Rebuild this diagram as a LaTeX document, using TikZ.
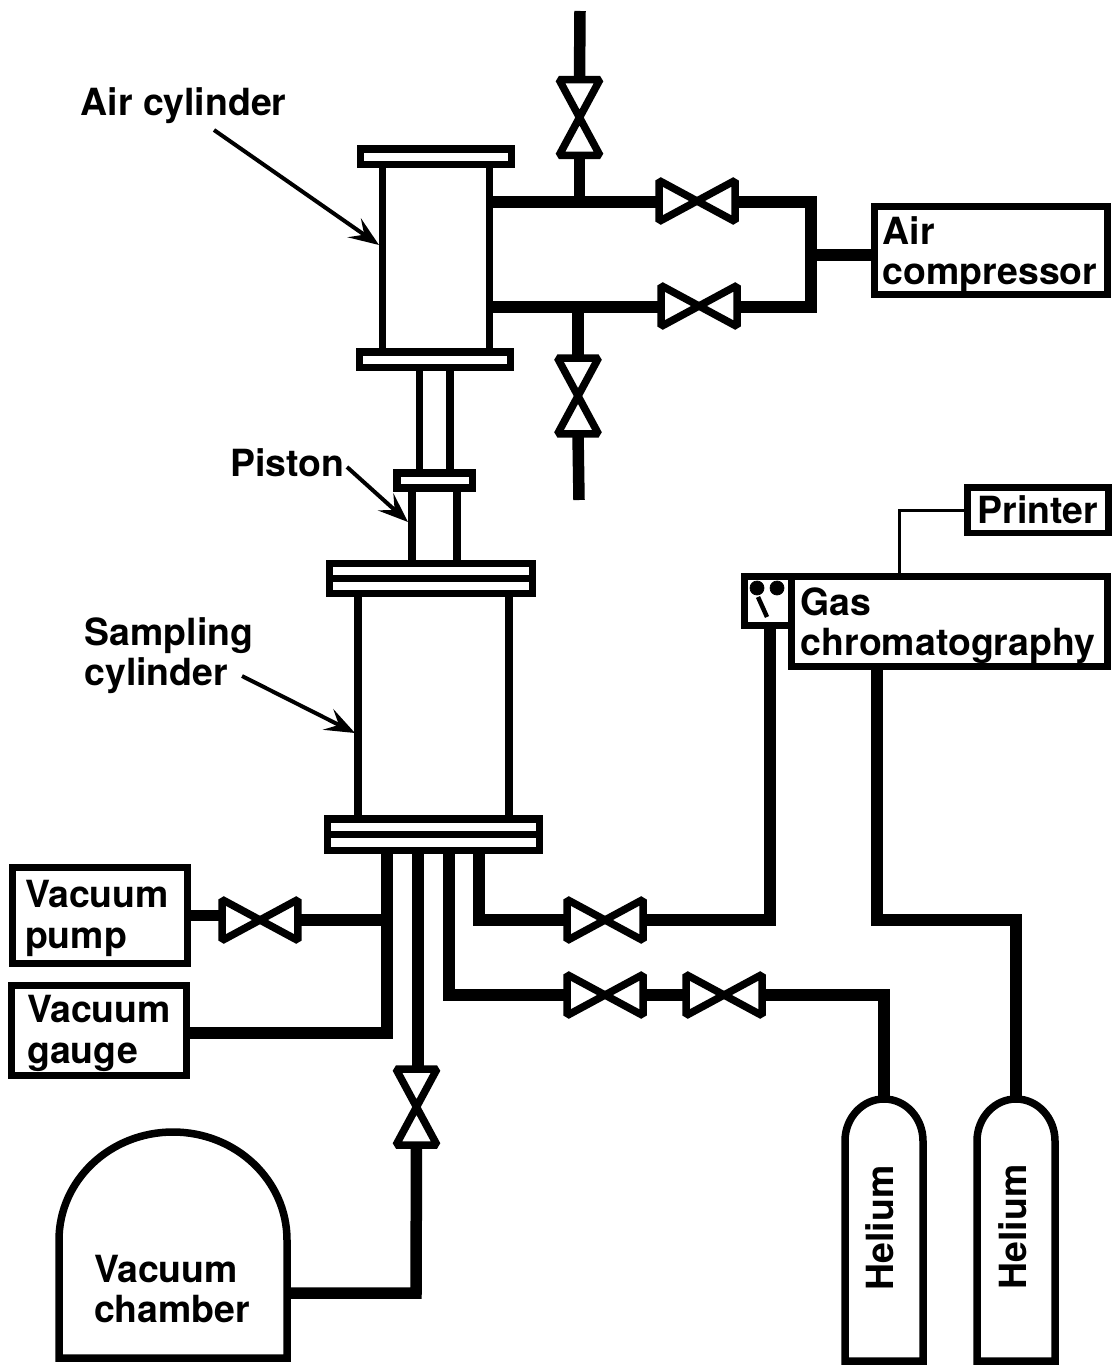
\documentclass[tikz,border=0pt]{standalone}
\usepackage{fontspec}
\setmainfont{TeX Gyre Heros}
\usetikzlibrary{arrows.meta,calc}
\tikzset{
	pipe/.style={line width=2.3mm, line join=miter},
	wall/.style={line width=1.5mm, line join=miter},
	callout/.style={line width=0.8mm, -{Stealth[length=6mm,width=4.6mm,inset=2.4mm]}},
	tag/.style={font=\fontsize{21.3}{22.9}\selectfont\bfseries, align=left, inner sep=0pt},
	box/.style={draw, line width=1.4mm, fill=white},
	valveline/.style={line width=1.5mm, line join=bevel, fill=white},
	hvalvebox/.style={minimum width=1.52cm, minimum height=0.82cm, inner sep=0pt, outer sep=0pt},
	vvalvebox/.style={minimum width=0.82cm, minimum height=1.52cm, inner sep=0pt, outer sep=0pt},
}
\def\hvalve(#1)(#2){\node[hvalvebox] (#1) at (#2) {};
	\draw[valveline] (#1.north west) -- (#1.south east) -- (#1.north east) -- (#1.south west) -- cycle;}
\def\vvalve(#1)(#2){\node[vvalvebox] (#1) at (#2) {};
	\draw[valveline] (#1.north west) -- (#1.south east) -- (#1.south west) -- (#1.north east) -- cycle;}
\def\bottle(#1)(#2){\coordinate (#1) at (#2,1099);
	\draw[wall] ($(#1)+(-39,262)$) -- ($(#1)+(-39,42)$) arc (180:360:39 and 42) -- ($(#1)+(39,262)$) -- cycle;}

\begin{document}
\begin{tikzpicture}[x=0.02cm, y=-0.02cm]
	%%%%% START %%%%%
	\useasboundingbox (0, 0) rectangle (1112, 1365);

	% air cylinder
	\draw[wall] (382.5, 164) -- (382.5, 352);
	\draw[wall] (489.5, 164) -- (489.5, 352);
	\draw[wall] (360.5, 149) rectangle (511.5, 164.5);
	\draw[wall] (359.5, 352) rectangle (510.5, 367.5);

	% piston
	\draw[wall] (419.5, 367) -- (419.5, 473);
	\draw[wall] (450, 367) -- (450, 473);
	\draw[wall] (397, 473) rectangle (472.5, 488);
	\draw[wall] (412, 488) -- (412, 563);
	\draw[wall] (457, 488) -- (457, 563);

	% sampling cylinder
	\draw[wall] (358, 593) -- (358, 819);
	\draw[wall] (509, 593) -- (509, 819);
	\draw[wall] (329.5, 563.5) rectangle (532.5, 593.5);
	\draw[wall] (329.5, 578.5) -- (532.5, 578.5);
	\draw[wall] (327.5, 819) rectangle (539.5, 850.5);
	\draw[wall] (327.5, 834.5) -- (539.5, 834.5);

	% boxes
	\node[box, minimum width=4.68cm, minimum height=1.78cm] (compressor) at (991, 250.5) {};
	\node[box, minimum width=2.82cm, minimum height=0.92cm] (printer) at (1038, 510) {};
	\node[box, minimum width=6.33cm, minimum height=1.8cm] (gc) at (949.75, 621.5) {};
	\node[box, minimum width=0.94cm, minimum height=0.98cm] (injector) at (768, 601) {};
	\node[box, minimum width=3.5cm, minimum height=1.92cm] (pump) at (100, 915.5) {};
	\node[box, minimum width=3.5cm, minimum height=1.8cm] (gauge) at (99, 1030.5) {};

	\node[tag] (compressortag) at (990, 255) {Air\\compressor};
	\node[tag] (printertag) at (1038, 510) {Printer};
	\node[tag] (gctag) at (948, 625.5) {Gas\\chromatography};
	\node[tag] (pumptag) at (97, 918.5) {Vacuum\\pump};
	\node[tag] (gaugetag) at (99, 1033.5) {Vacuum\\gauge};

	\draw[fill=black] (757, 588) circle (7);
	\draw[fill=black] (777, 588) circle (7);
	\draw[line width=0.9mm] (758, 597) -- (767, 617);

	% valves
	\vvalve(vtop)(579.5, 117.5)
	\hvalve(vup)(697, 201)
	\hvalve(vlow)(699, 306)
	\vvalve(vbot)(578, 396)
	\hvalve(vpump)(260, 920)
	\hvalve(vgc)(605, 920)
	\hvalve(vhea)(605, 995)
	\hvalve(vheb)(724, 995)
	\vvalve(vcham)(416.5, 1107)

	% chamber and bottles
	\draw[wall] (59, 1358) -- (59, 1240) arc (180:360:114 and 108) -- (287, 1358) -- cycle;
	\node[tag] (chamber) at (172, 1289) {Vacuum\\chamber};
	\bottle(hea)(884)
	\bottle(heb)(1016)
	\node[tag, rotate=90] (helabela) at (880, 1228) {Helium};
	\node[tag, rotate=90] (helabelb) at (1013, 1227) {Helium};

	% pipes on the air side
	\coordinate (topin) at (580, 11);
	\coordinate (botout) at (579, 500);
	\coordinate (cylup) at (490, 202);
	\coordinate (cyllow) at (490, 307);
	\coordinate (manup) at (811, 202);
	\coordinate (manlow) at (811, 307);
	\coordinate (manmid) at (811, 255);
	\draw[pipe] (topin) -- (vtop.north);
	\draw[pipe] (vtop.south) -- (vtop.south |- cylup);
	\draw[pipe] (vbot.north) -- (vbot.north |- cyllow);
	\draw[pipe] (vbot.south) -- (botout);
	\draw[pipe] (cylup) -- (cylup -| vup.west);
	\draw[pipe] (cyllow) -- (cyllow -| vlow.west);
	\draw[pipe] (manup -| vup.east) -- (manup) -- (manlow) -- (manlow -| vlow.east);
	\draw[pipe] (manmid) -- (manmid -| compressor.west);

	% pipes below the sampling cylinder
	\coordinate (porta) at (387, 850);
	\coordinate (portb) at (418, 850);
	\coordinate (portc) at (449, 850);
	\coordinate (portd) at (479, 850);
	\coordinate (gaugejoin) at (387, 1033);
	\coordinate (chamjoin) at (416, 1293);
	\draw[pipe] (pump.east) -- (pump.east -| vpump.west);
	\draw[pipe] (vpump.east) -- (vpump.east -| porta);
	\draw[pipe] (porta) -- (gaugejoin) -- (gaugejoin -| gauge.east);
	\draw[pipe] (portb) -- (portb |- vcham.north);
	\draw[pipe] (vcham.south) -- (chamjoin) -- (287, 1293);
	\draw[pipe] (portc) |- (vhea.west);
	\draw[pipe] (vhea.east) -- (vheb.west);
	\draw[pipe] (vheb.east) -| (hea);
	\draw[pipe] (portd) |- (vgc.west);
	\draw[pipe] (vgc.east) -| (injector.south -| 770, 0);

	% pipes at the chromatograph
	\coordinate (gcout) at (877, 666);
	\coordinate (gcjoin) at (877, 920);
	\draw[pipe] (gcout) -- (gcjoin) -| (heb);
	\draw[line width=0.6mm] (printer.west) -| (gc.north -| 899, 0);

	% labels
	\node[tag] (airlabel) at (183.5, 106) {Air cylinder};
	\node[tag] (pistonlabel) at (287.5, 463) {Piston};
	\node[tag] (samplinglabel) at (169, 655.5) {Sampling\\cylinder};
	\coordinate (aira) at (214, 130);
	\coordinate (airb) at (379, 245);
	\coordinate (pistona) at (347, 467);
	\coordinate (pistonb) at (408, 522);
	\coordinate (samplinga) at (242, 676);
	\coordinate (samplingb) at (355, 733);
	\draw[callout] (aira) -- (airb);
	\draw[callout] (pistona) -- (pistonb);
	\draw[callout] (samplinga) -- (samplingb);

	%%%%% END %%%%%
\end{tikzpicture}
\end{document}
